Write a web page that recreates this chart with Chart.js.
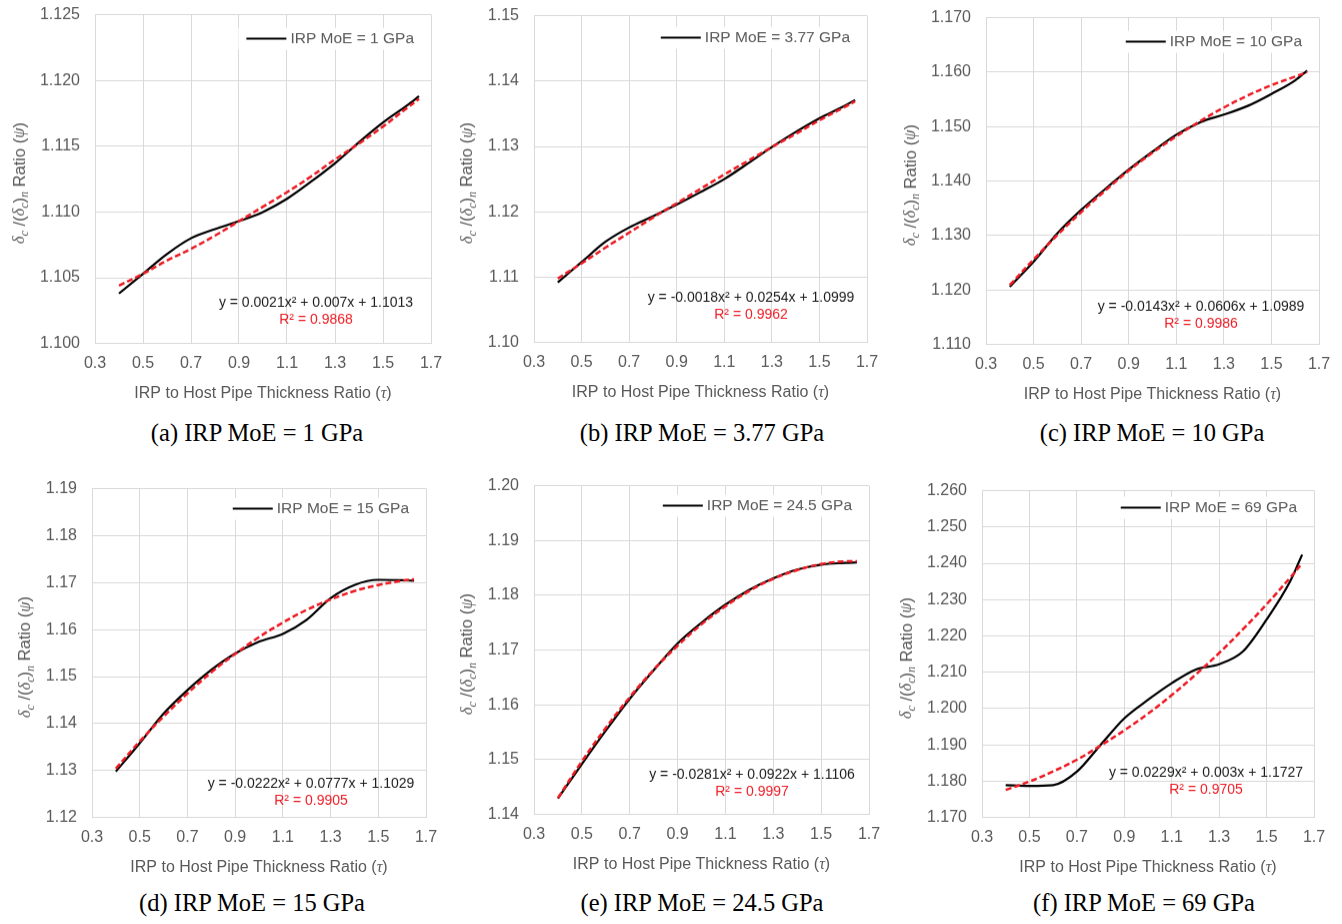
<!DOCTYPE html>
<html>
<head>
<meta charset="utf-8">
<script src="https://cdn.jsdelivr.net/npm/chart.js@4/dist/chart.umd.min.js"></script>
<style>
  html, body { margin: 0; padding: 0; background: #fff; }
  body { width: 1342px; height: 924px; position: relative; overflow: hidden; }
  .panel { position: absolute; }
  .caption {
    position: absolute;
    transform: translate(-50%, -50%);
    font-family: "Liberation Serif", "Times New Roman", serif;
    font-size: 24.5px;
    color: #000;
    white-space: nowrap;
  }
</style>
</head>
<body>
<script>
// ----------------------------
// Data
// ----------------------------
var tau = [0.4, 0.5, 0.6, 0.7, 0.8, 0.9, 1.0, 1.1, 1.2, 1.3, 1.4, 1.5, 1.6, 1.65];

var psiA = [1.1038, 1.1053, 1.1068, 1.1080, 1.1087, 1.1093, 1.1100, 1.1110, 1.1123, 1.1137, 1.1153, 1.1168, 1.1181, 1.1188];
var fitA = [1.1044, 1.1053, 1.1063, 1.1072, 1.1082, 1.1093, 1.1104, 1.1115, 1.1127, 1.1140, 1.1152, 1.1165, 1.1179, 1.1186];

var psiB = [1.1092, 1.1123, 1.1154, 1.1176, 1.1193, 1.1211, 1.1230, 1.1250, 1.1274, 1.1299, 1.1322, 1.1343, 1.1361, 1.1371];
var fitB = [1.1098, 1.1121, 1.1145, 1.1168, 1.1191, 1.1213, 1.1235, 1.1257, 1.1278, 1.1299, 1.1319, 1.1340, 1.1359, 1.1369];

var psiC = [1.1206, 1.1252, 1.1304, 1.1347, 1.1385, 1.1421, 1.1454, 1.1485, 1.1508, 1.1522, 1.1538, 1.1560, 1.1585, 1.1603];
var fitC = [1.1209, 1.1256, 1.1301, 1.1343, 1.1382, 1.1419, 1.1452, 1.1482, 1.1510, 1.1535, 1.1557, 1.1576, 1.1592, 1.1600];

var psiD = [1.1298, 1.1358, 1.1421, 1.1471, 1.1514, 1.1549, 1.1574, 1.1591, 1.1621, 1.1667, 1.1695, 1.1706, 1.1705, 1.1704];
var fitD = [1.1304, 1.1362, 1.1415, 1.1464, 1.1509, 1.1548, 1.1584, 1.1615, 1.1642, 1.1664, 1.1682, 1.1695, 1.1704, 1.1707];

var psiE = [1.1429, 1.1492, 1.1553, 1.1611, 1.1663, 1.1712, 1.1750, 1.1783, 1.1810, 1.1831, 1.1847, 1.1856, 1.1859, 1.1860];
var fitE = [1.1430, 1.1497, 1.1558, 1.1614, 1.1664, 1.1708, 1.1747, 1.1780, 1.1808, 1.1830, 1.1846, 1.1857, 1.1862, 1.1862];

var psiF = [1.1789, 1.1787, 1.1789, 1.1826, 1.1900, 1.1973, 1.2024, 1.2070, 1.2107, 1.2122, 1.2157, 1.2245, 1.2351, 1.2424];
var fitF = [1.1776, 1.1799, 1.1827, 1.1859, 1.1898, 1.1940, 1.1986, 1.2037, 1.2093, 1.2153, 1.2218, 1.2287, 1.2361, 1.2400];

var moeLabels = ['1', '3.77', '10', '15', '24.5', '69'];
var captionLetters = ['a', 'b', 'c', 'd', 'e', 'f'];
var equations = [
    'y = 0.0021x\u00B2 + 0.007x + 1.1013',
    'y = -0.0018x\u00B2 + 0.0254x + 1.0999',
    'y = -0.0143x\u00B2 + 0.0606x + 1.0989',
    'y = -0.0222x\u00B2 + 0.0777x + 1.1029',
    'y = -0.0281x\u00B2 + 0.0922x + 1.1106',
    'y = 0.0229x\u00B2 + 0.003x + 1.1727'
];
var r2Labels = ['R\u00B2 = 0.9868', 'R\u00B2 = 0.9962', 'R\u00B2 = 0.9986', 'R\u00B2 = 0.9905', 'R\u00B2 = 0.9997', 'R\u00B2 = 0.9705'];

// y axis ranges and tick label decimals
var yMin = [1.100, 1.10, 1.110, 1.12, 1.14, 1.170];
var yMax = [1.125, 1.15, 1.170, 1.19, 1.20, 1.260];
var yStep = [0.005, 0.01, 0.01, 0.01, 0.01, 0.01];
var yDecimals = [3, 2, 3, 2, 2, 3];

var xTicks = { min: 0.3, max: 1.7, step: 0.2 };

var psiSeries = [psiA, psiB, psiC, psiD, psiE, psiF];
var fitSeries = [fitA, fitB, fitC, fitD, fitE, fitF];

// ----------------------------
// Page layout (plot area boxes in page pixels)
// ----------------------------
var layout = [
    { left: 95,  top: 15,  right: 431,  bottom: 343, legendY: 24, eqRight: 115, eqBottom: 40, cap: [257, 433] },
    { left: 534, top: 16,  right: 867,  bottom: 342, legendY: 22, eqRight: 116, eqBottom: 44, cap: [702, 433] },
    { left: 986, top: 18,  right: 1319, bottom: 344, legendY: 24, eqRight: 118, eqBottom: 37, cap: [1152, 433] },
    { left: 92,  top: 489, right: 426,  bottom: 817, legendY: 20, eqRight: 115, eqBottom: 33, cap: [252, 903] },
    { left: 534, top: 486, right: 869,  bottom: 814, legendY: 20, eqRight: 117, eqBottom: 39, cap: [702, 903] },
    { left: 982, top: 491, right: 1314, bottom: 817, legendY: 17, eqRight: 108, eqBottom: 44, cap: [1144, 903] }
];

var AXIS_W = 95, PAD_TOP = 12, PAD_RIGHT = 24, AXIS_H = 62;
var GREY = '#595959';
var SANS = '"Liberation Sans", Arial, sans-serif';
var SERIF = '"Liberation Serif", "Times New Roman", serif';

// ----------------------------
// Rich text helper (italic greek, subscripts)
// ----------------------------
function partFont(p, size) {
    var s = p.sub ? Math.round(size * 0.72) : size;
    return p.it ? 'italic ' + s + 'px ' + SERIF : s + 'px ' + SANS;
}

function drawRich(ctx, parts, x, y, size) {
    var widths = [], total = 0;
    parts.forEach(function (p) {
        ctx.font = partFont(p, size);
        var w = ctx.measureText(p.t).width;
        widths.push(w);
        total += w;
    });
    var cx = x - total / 2;
    ctx.textAlign = 'left';
    ctx.textBaseline = 'middle';
    parts.forEach(function (p, i) {
        ctx.font = partFont(p, size);
        ctx.fillText(p.t, cx, y + (p.sub ? size * 0.3 : 0));
        cx += widths[i];
    });
}

var yTitleParts = [
    { t: '\u03B4', it: true }, { t: 'c', it: true, sub: true }, { t: ' /(' },
    { t: '\u03B4', it: true }, { t: 'c', it: true, sub: true }, { t: ')' },
    { t: 'n', it: true, sub: true }, { t: ' Ratio (' }, { t: '\u03C8', it: true }, { t: ')' }
];
var xTitleParts = [{ t: 'IRP to Host Pipe Thickness Ratio (' }, { t: '\u03C4', it: true }, { t: ')' }];

// ----------------------------
// Plugin: axis titles, legend box, trendline equation
// ----------------------------
var panelText = {
    id: 'panelText',
    afterDraw: function (chart, args, opts) {
        var ctx = chart.ctx, ca = chart.chartArea;
        ctx.save();
        ctx.fillStyle = GREY;

        // y title, left of the widest tick label
        ctx.font = '16px ' + SANS;
        var maxW = 0;
        chart.scales.y.ticks.forEach(function (t) {
            maxW = Math.max(maxW, ctx.measureText(t.value.toFixed(opts.decimals)).width);
        });
        var tx = ca.left - 15 - maxW - 20;
        var ty = (ca.top + ca.bottom) / 2 + 4;
        ctx.save();
        ctx.translate(tx, ty);
        ctx.rotate(-Math.PI / 2);
        drawRich(ctx, yTitleParts, 0, 0, 16.5);
        ctx.restore();

        // x title
        drawRich(ctx, xTitleParts, (ca.left + ca.right) / 2, ca.bottom + 50, 16);

        // legend (only the data series)
        ctx.font = '15.5px ' + SANS;
        var label = 'IRP MoE = ' + opts.moe + ' GPa';
        var tw = ctx.measureText(label).width;
        var textRight = ca.right - 17;
        var textLeft = textRight - tw;
        var ly = ca.top + opts.legendY;
        ctx.fillStyle = '#fff';
        ctx.fillRect(textLeft - 52, ly - 11, tw + 60, 22);
        ctx.strokeStyle = '#000';
        ctx.lineWidth = 2;
        ctx.beginPath();
        ctx.moveTo(textLeft - 44, ly);
        ctx.lineTo(textLeft - 4, ly);
        ctx.stroke();
        ctx.fillStyle = GREY;
        ctx.textAlign = 'left';
        ctx.textBaseline = 'middle';
        ctx.fillText(label, textLeft, ly);

        // trendline equation + R²
        var ex = ca.right - opts.eqRight;
        var ey = ca.bottom - opts.eqBottom;
        ctx.textAlign = 'center';
        ctx.font = '14px ' + SANS;
        ctx.fillStyle = '#1a1a1a';
        ctx.fillText(opts.equation, ex, ey);
        ctx.fillStyle = '#ee1c24';
        ctx.fillText(opts.r2, ex, ey + 17);
        ctx.restore();
    }
};

// ----------------------------
// Build panels
// ----------------------------
function toPoints(values) {
    return values.map(function (v, i) { return { x: tau[i], y: v }; });
}

layout.forEach(function (box, k) {
    var plotW = box.right - box.left;
    var plotH = box.bottom - box.top;
    var w = plotW + AXIS_W + PAD_RIGHT;
    var h = plotH + PAD_TOP + AXIS_H;

    var wrap = document.createElement('div');
    wrap.className = 'panel';
    wrap.style.left = (box.left - AXIS_W) + 'px';
    wrap.style.top = (box.top - PAD_TOP) + 'px';
    wrap.style.width = w + 'px';
    wrap.style.height = h + 'px';
    var canvas = document.createElement('canvas');
    canvas.id = 'chart-' + captionLetters[k];
    wrap.appendChild(canvas);
    document.body.appendChild(wrap);

    var cap = document.createElement('div');
    cap.className = 'caption';
    cap.style.left = box.cap[0] + 'px';
    cap.style.top = box.cap[1] + 'px';
    cap.textContent = '(' + captionLetters[k] + ') IRP MoE = ' + moeLabels[k] + ' GPa';
    document.body.appendChild(cap);

    var dec = yDecimals[k];
    var chart = new Chart(canvas.getContext('2d'), {
        type: 'line',
        data: {
            datasets: [
                {
                    label: 'Poly. fit',
                    data: toPoints(fitSeries[k]),
                    borderColor: '#ee1c24',
                    borderWidth: 2.5,
                    borderDash: [6, 3],
                    pointRadius: 0,
                    tension: 0.4,
                    fill: false,
                    order: 0
                },
                {
                    label: 'IRP MoE = ' + moeLabels[k] + ' GPa',
                    data: toPoints(psiSeries[k]),
                    borderColor: '#000',
                    borderWidth: 2.2,
                    pointRadius: 0,
                    cubicInterpolationMode: 'monotone',
                    fill: false,
                    order: 1
                }
            ]
        },
        options: {
            responsive: true,
            maintainAspectRatio: false,
            animation: false,
            events: [],
            layout: { padding: { top: PAD_TOP, right: PAD_RIGHT, left: 0, bottom: 0 } },
            plugins: {
                legend: { display: false },
                tooltip: { enabled: false },
                panelText: {
                    decimals: dec,
                    moe: moeLabels[k],
                    equation: equations[k],
                    r2: r2Labels[k],
                    legendY: box.legendY,
                    eqRight: box.eqRight,
                    eqBottom: box.eqBottom
                }
            },
            scales: {
                x: {
                    type: 'linear',
                    min: xTicks.min,
                    max: xTicks.max,
                    afterFit: function (s) { s.height = AXIS_H; },
                    grid: { color: '#d9d9d9', drawTicks: false },
                    border: { color: '#d9d9d9' },
                    ticks: {
                        stepSize: xTicks.step,
                        padding: 10,
                        color: GREY,
                        font: { family: SANS, size: 16 },
                        maxRotation: 0,
                        callback: function (v) { return Number(v).toFixed(1); }
                    }
                },
                y: {
                    min: yMin[k],
                    max: yMax[k],
                    afterFit: function (s) { s.width = AXIS_W; },
                    grid: { color: '#d9d9d9', drawTicks: false },
                    border: { color: '#d9d9d9' },
                    ticks: {
                        stepSize: yStep[k],
                        padding: 15,
                        color: GREY,
                        font: { family: SANS, size: 16 },
                        callback: function (v) { return Number(v).toFixed(dec); }
                    }
                }
            }
        },
        plugins: [panelText]
    });

    // Nudge the canvas so the plot area lands on the target box.
    var ca = chart.chartArea;
    w += plotW - (ca.right - ca.left);
    h += plotH - (ca.bottom - ca.top);
    wrap.style.width = w + 'px';
    wrap.style.height = h + 'px';
    chart.resize();
    ca = chart.chartArea;
    wrap.style.left = (box.left - ca.left) + 'px';
    wrap.style.top = (box.top - ca.top) + 'px';
});
</script>
</body>
</html>
